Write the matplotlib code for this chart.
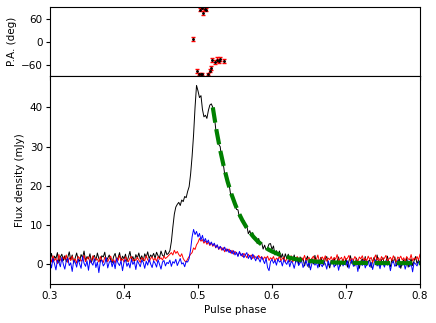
import numpy as np
import matplotlib
matplotlib.use("Agg")
import matplotlib.pyplot as plt

# pulse phase bins shown in the window (0.3 - 0.8, step 0.002)
phase = np.linspace(0.3, 0.8, 251)

# total intensity (black)
flux_i = [
    1.2, 2.8, 0.6, 2.1, 1.5, 3.0, 0.4, 1.9, 2.6, 1.0,
    2.2, 0.7, 1.8, 3.2, 1.1, 2.4, 0.3, 1.6, 2.9, 1.3,
    0.8, 2.5, 1.7, 3.4, 0.9, 2.0, 1.4, 2.7, 0.5, 1.8,
    2.3, 1.0, 2.9, 1.5, 0.6, 2.2, 1.9, 3.1, 0.8, 1.6,
    2.4, 1.2, 0.4, 2.0, 2.8, 1.1, 1.7, 3.0, 0.9, 2.1,
    1.4, 2.6, 0.7, 1.9, 3.3, 1.2, 2.0, 0.8, 2.5, 1.6,
    2.9, 1.3, 2.2, 0.9, 2.7, 1.8, 3.2, 1.5, 2.4, 1.9,
    2.8, 1.6, 3.1, 2.2, 1.7, 3.4, 2.3, 2.0, 3.6, 2.5,
    2.8, 3.5, 5.8, 9.5, 12.8, 14.6, 15.3, 15.8, 15.0, 16.4,
    16.0, 17.3, 17.0, 18.6, 19.8, 23.0, 27.5, 33.0, 40.0, 45.6,
    44.2, 42.5, 43.0, 39.5, 37.6, 38.0, 37.2, 39.2, 40.6, 40.9,
    40.0, 38.0, 34.4, 33.3, 30.6, 30.0, 26.7, 25.8, 23.1, 23.2,
    20.8, 20.4, 17.9, 17.9, 15.9, 16.2, 14.0, 13.9, 11.9, 12.6,
    11.0, 11.2, 9.3, 9.8, 7.8, 8.6, 7.2, 8.1, 6.5, 6.9,
    5.3, 6.6, 5.1, 5.6, 3.9, 4.9, 3.7, 4.2, 5.2, 5.3,
    3.8, 4.7, 2.4, 3.5, 2.2, 3.4, 1.6, 2.7, 1.2, 2.7,
    1.5, 2.6, 0.7, 2.0, 1.0, 2.4, 0.5, 1.8, 0.0, 1.9,
    0.8, 1.6, -0.4, 1.2, 2.1, -0.8, 0.9, 1.5, 0.1, 2.3,
    0.4, 1.1, -0.6, 1.8, 0.7, -0.2, 1.4, 2.0, 0.3, -0.9,
    1.0, 0.5, 1.7, -0.3, 0.8, 1.9, -0.5, 0.6, 1.3, 0.0,
    1.5, -0.7, 0.9, 2.2, 0.2, 1.0, -0.4, 1.6, 0.5, -1.0,
    0.8, 1.4, 0.1, 2.0, -0.3, 0.7, 1.2, -0.8, 0.9, 1.8,
    0.2, 2.4, 0.6, -0.5, 1.1, 1.7, -0.2, 0.8, 2.1, 0.3,
    -0.6, 1.3, 0.5, 1.9, -0.4, 0.7, 1.5, -1.0, 0.4, 1.2,
    0.0, 1.8, -0.7, 0.6, 1.4, -0.3, 0.9, 2.0, 0.2, 1.1,
    0.5,
]

# linear polarisation (red)
flux_l = [
    1.8, 0.6, 2.2, 1.0, 1.5, 0.2, 2.5, 1.2, 0.8, 1.9,
    1.3, 2.4, 0.5, 1.7, 1.0, 2.1, 0.9, 1.4, 0.3, 2.0,
    1.6, 0.8, 1.2, 2.3, 0.7, 1.5, 1.9, 0.4, 1.1, 2.2,
    0.9, 1.6, 1.3, 0.6, 2.0, 1.1, 0.5, 1.8, 1.4, 0.7,
    1.5, 2.1, 0.8, 1.2, 0.3, 1.7, 1.0, 2.3, 0.9, 1.4,
    0.6, 1.9, 1.2, 0.7, 1.6, 2.0, 0.8, 1.3, 1.0, 1.8,
    1.1, 0.5, 1.7, 1.4, 0.9, 2.2, 1.2, 0.6, 1.5, 1.9,
    1.0, 1.6, 0.8, 2.0, 1.3, 1.7, 1.1, 2.1, 1.5, 1.8,
    2.2, 2.6, 3.0, 2.4, 3.6, 2.8, 3.3, 2.5, 2.0, 2.7,
    1.5, 0.9, 0.6, 1.4, 2.0, 2.6, 3.0, 4.2, 3.8, 5.0,
    5.6, 6.6, 5.9, 6.3, 5.4, 6.0, 5.1, 5.7, 4.8, 5.5,
    4.6, 5.2, 4.2, 4.9, 3.8, 4.5, 3.6, 4.3, 3.2, 4.0,
    3.4, 3.9, 2.9, 3.6, 2.6, 3.3, 2.8, 2.2, 3.1, 2.5,
    2.0, 2.8, 2.3, 1.7, 2.6, 1.9, 2.4, 1.5, 2.2, 1.8,
    1.4, 2.3, 1.6, 2.0, 1.2, 1.9, 1.5, 2.1, 1.0, 1.7,
    1.3, 2.0, 0.8, 1.6, 1.2, 2.1, 0.9, 1.5, 1.8, 0.7,
    1.4, 1.9, 1.0, 2.2, 0.6, 1.5, 1.1, 2.0, 1.3, 0.8,
    1.7, 1.2, 2.3, 0.9, 1.4, 1.8, 0.5, 1.6, 2.1, 1.0,
    1.3, 2.4, 0.7, 1.5, 1.9, 1.1, 2.2, 0.8, 1.6, 1.2,
    2.0, 0.9, 1.7, 1.3, 2.5, 1.0, 1.4, 1.8, 0.6, 2.1,
    1.2, 1.6, 2.3, 0.8, 1.5, 1.1, 2.0, 1.3, 0.7, 1.9,
    1.4, 2.2, 1.0, 1.6, 0.9, 2.1, 1.3, 1.8, 0.5, 1.5,
    2.4, 1.1, 1.7, 0.8, 2.0, 1.2, 1.6, 2.3, 0.9, 1.4,
    1.8, 1.0, 2.2, 1.3, 0.6, 1.9, 1.5, 2.1, 1.1, 1.7,
    0.8, 2.0, 1.4, 1.2, 2.5, 0.9, 1.6, 1.3, 2.0, 1.1,
    2.6,
]

# circular polarisation (blue)
flux_v = [
    0.8, -0.9, 1.5, 0.2, -1.4, 1.1, 0.5, -0.6, 1.8, 0.0,
    -1.2, 0.9, 1.6, -0.3, 0.4, -1.8, 1.0, 0.6, -0.7, 1.3,
    0.1, -1.0, 2.0, 0.3, -0.5, 0.9, -1.5, 1.2, 0.4, -0.2,
    1.4, -0.8, 0.6, -2.1, 0.7, 1.1, -0.4, 0.2, 1.7, -0.9,
    0.5, 1.0, -0.6, 0.8, -1.1, 1.5, 0.3, -0.3, 0.9, -1.6,
    0.6, 1.2, -0.5, 0.4, -0.9, 1.3, 0.0, 0.7, -1.3, 1.0,
    0.2, -0.6, 1.1, 0.5, -1.0, 0.8, -0.2, 1.4, 0.1, -0.8,
    0.9, 0.3, -0.7, 1.2, 0.0, -1.2, 0.6, 1.0, -0.4, 0.5,
    0.2, 1.1, -0.5, 0.7, 0.3, 1.3, -0.3, 0.6, 1.5, 0.1,
    0.4, -0.6, 0.8, 0.6, 1.5, 3.8, 7.0, 8.9, 7.6, 8.4,
    7.0, 7.9, 6.2, 7.4, 5.8, 6.6, 5.5, 6.2, 5.0, 5.7,
    4.8, 5.4, 4.3, 5.0, 3.9, 4.6, 4.1, 3.6, 4.4, 3.3,
    3.9, 3.0, 3.6, 2.7, 3.5, 2.4, 3.1, 2.0, 3.3, 2.2,
    2.8, 1.7, 2.5, 3.0, 1.5, 2.3, 1.2, 2.6, 1.8, 0.9,
    2.1, 1.4, 0.6, 1.9, 1.1, 0.2, 1.6, -0.8, -1.6, 0.7,
    1.3, 0.3, 1.0, -0.2, 1.4, 0.6, 0.9, -0.4, 1.2, 0.5,
    0.0, 1.1, -0.6, 0.8, 0.3, -1.0, 0.7, 1.2, -0.3, 0.4,
    0.9, -0.8, 0.2, 1.0, -0.5, 0.6, -1.4, 0.3, 0.8, -0.2,
    0.5, -0.9, 1.1, 0.0, -0.6, 0.7, 0.2, -1.2, 0.9, -0.3,
    0.4, 1.0, -0.7, 0.1, 0.6, -1.5, 0.3, 0.8, -0.4, 0.5,
    -0.2, 0.9, -1.0, 0.4, 1.2, -0.5, 0.0, 0.7, -1.8, 0.3,
    0.6, -0.3, 1.0, -0.9, 0.2, 0.8, -0.6, 0.5, -1.3, 0.4,
    1.1, -0.4, 0.1, -1.1, 0.7, 0.2, -0.7, 0.9, -0.2, 0.5,
    -1.6, 0.3, 0.8, -0.5, 0.0, 1.0, -0.8, 0.4, -0.2, 0.6,
    -1.2, 0.2, 0.9, -0.6, 0.3, -1.9, 0.5, 0.1, -0.4, 0.7,
    0.0,
]

# scattering tail fit (green dashed)
fit_phase = [0.520, 0.525, 0.530, 0.535, 0.540, 0.545, 0.550, 0.555, 0.560,
             0.565, 0.570, 0.575, 0.580, 0.585, 0.590, 0.595, 0.600, 0.61,
             0.62, 0.63, 0.64, 0.65, 0.66, 0.67, 0.68, 0.70, 0.72, 0.75, 0.80]
fit_flux = [40.0, 34.1, 29.1, 24.8, 21.1, 18.0, 15.4, 13.1, 11.2,
            9.6, 8.2, 7.0, 6.0, 5.2, 4.5, 3.8, 3.3, 2.5,
            1.9, 1.4, 1.1, 0.9, 0.7, 0.6, 0.5, 0.4, 0.36, 0.32, 0.3]

# position angle
pa_phase = [0.4928, 0.499, 0.5014, 0.5027, 0.5036, 0.505, 0.506, 0.5072, 0.5095,
            0.511, 0.514, 0.516, 0.5176, 0.5185, 0.523, 0.526, 0.528, 0.530, 0.5356]
pa_deg = [7, -76, -84, 83, -84, 88, -85, 75, 86,
          83, -84, -76, -70, -48, -53, -47, -50, -46, -51]
pa_err = [5, 5, 3, 4, 3, 3, 3, 5, 4,
          4, 3, 4, 5, 6, 5, 6, 5, 5, 5]

plt.rcParams['font.size'] = 7.5
plt.rcParams['xtick.major.size'] = 2.6
plt.rcParams['ytick.major.size'] = 2.6
plt.rcParams['xtick.major.pad'] = 2.6
plt.rcParams['ytick.major.pad'] = 2.6
plt.rcParams['axes.labelpad'] = 3

fig = plt.figure(figsize=(4.36, 3.23), dpi=100)
ax_pa = fig.add_axes([0.1147, 0.7647, 0.8486, 0.2133])
ax = fig.add_axes([0.1147, 0.1207, 0.8486, 0.644], sharex=ax_pa)

ax_pa.errorbar(pa_phase, pa_deg, yerr=pa_err, fmt='k.', ms=2,
               ecolor='r', elinewidth=1, capsize=1.5)
ax_pa.set_ylim(-90, 90)
ax_pa.set_yticks([-60, 0, 60])
ax_pa.set_ylabel('P.A. (deg)')
ax_pa.tick_params(labelbottom=False)

ax.plot(phase, flux_i, 'k-', lw=0.7)
ax.plot(phase, flux_l, 'r-', lw=0.7)
ax.plot(phase, flux_v, 'b-', lw=0.7)
ax.plot(fit_phase, fit_flux, 'g--', lw=3)
ax.set_xlim(0.3, 0.8)
ax.set_ylim(-5, 48)
ax.set_yticks([0, 10, 20, 30, 40])
ax.set_xlabel('Pulse phase')
ax.set_ylabel('Flux density (mJy)')

fig.savefig('out.png', dpi=100)
